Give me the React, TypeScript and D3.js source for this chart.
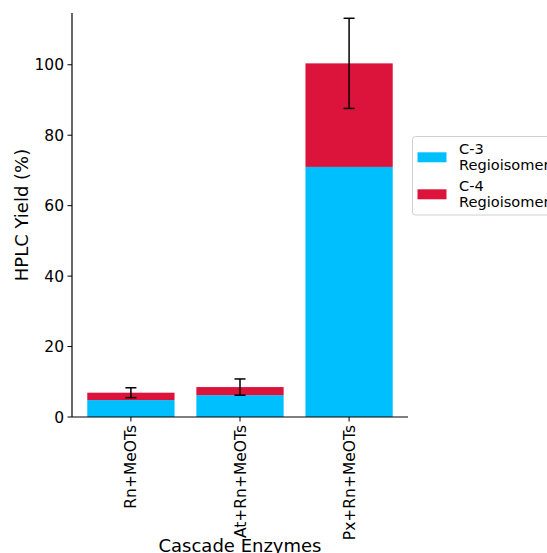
import React from "react";
import * as d3 from "d3";

const categories = ["Rn+MeOTs", "At+Rn+MeOTs", "Px+Rn+MeOTs"];
const c3Values = [4.8, 6.2, 71.0];
const c4Values = [2.1, 2.3, 29.4];
const errValues = [1.4, 2.3, 12.8];
const yTicks = [0, 20, 40, 60, 80, 100];
const seriesNames = ["C-3\nRegioisomer", "C-4\nRegioisomer"];
const colors = ["#00BFFF", "#DC143C"];

const W = 547, H = 553;
const left = 72, right = 408, top = 13, bottom = 417;
const font = "DejaVu Sans, sans-serif";
const fs = 15.5;
const lfs = 14.6;

export default function App() {
  const x = d3.scaleLinear().domain([-0.54, 2.54]).range([left, right]);
  const y = d3.scaleLinear().domain([0, 114.7]).range([bottom, top]);
  const bw = x(0.8) - x(0);
  return (
    <svg width={W} height={H} style={{ position: "absolute", left: 0, top: 0, background: "#fff" }} fontFamily={font}>
      {categories.map((c, i) => {
        const total = c3Values[i] + c4Values[i];
        const cx = x(i);
        return (
          <g key={c}>
            <rect x={cx - bw / 2} width={bw} y={y(c3Values[i])} height={y(0) - y(c3Values[i])} fill={colors[0]} />
            <rect x={cx - bw / 2} width={bw} y={y(total)} height={y(c3Values[i]) - y(total)} fill={colors[1]} />
            <line x1={cx} x2={cx} y1={y(total - errValues[i])} y2={y(total + errValues[i])} stroke="#000" strokeWidth={1.5} />
            <line x1={cx - 5.5} x2={cx + 5.5} y1={y(total - errValues[i])} y2={y(total - errValues[i])} stroke="#000" strokeWidth={1.5} />
            <line x1={cx - 5.5} x2={cx + 5.5} y1={y(total + errValues[i])} y2={y(total + errValues[i])} stroke="#000" strokeWidth={1.5} />
            <line x1={cx} x2={cx} y1={bottom} y2={bottom + 4.5} stroke="#000" strokeWidth={1} />
            <text transform={`translate(${cx + 5.5},${bottom + 8}) rotate(-90)`} textAnchor="end" fontSize={fs} fill="#000">{c}</text>
          </g>
        );
      })}
      {yTicks.map(t => (
        <g key={t}>
          <line x1={left - 4.5} x2={left} y1={y(t)} y2={y(t)} stroke="#000" strokeWidth={1} />
          <text x={left - 8} y={y(t) + 5.5} textAnchor="end" fontSize={fs} fill="#000">{t}</text>
        </g>
      ))}
      <line x1={left} x2={left} y1={top} y2={bottom} stroke="#000" strokeWidth={1.2} />
      <line x1={left} x2={right} y1={bottom} y2={bottom} stroke="#000" strokeWidth={1.2} />
      <text transform={`translate(28,${(top + bottom) / 2}) rotate(-90)`} textAnchor="middle" fontSize={18} fill="#000">HPLC Yield (%)</text>
      <text x={(left + right) / 2} y={552} textAnchor="middle" fontSize={18} fill="#000">Cascade Enzymes</text>
      <rect x={412.5} y={136.5} width={150} height={78.5} rx={3} fill="#fff" stroke="#d0d0d0" strokeWidth={1} />
      {seriesNames.map((s, i) => {
        const lines = s.split("\n");
        const by = 153.5 + i * 37;
        return (
          <g key={s}>
            <rect x={417.5} y={152.3 + i * 37} width={29} height={10} fill={colors[i]} />
            {lines.map((l, j) => (
              <text key={j} x={459} y={by + j * 16} fontSize={lfs} fill="#000">{l}</text>
            ))}
          </g>
        );
      })}
    </svg>
  );
}
